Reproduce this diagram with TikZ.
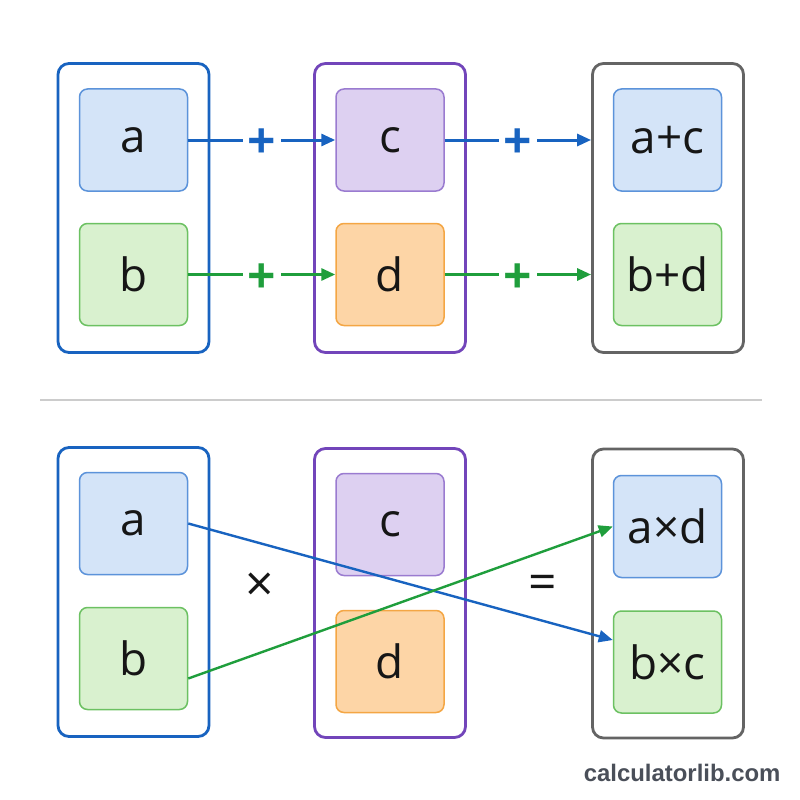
\documentclass[tikz,border=0pt]{standalone}
\usepackage{fontspec}
\setmainfont{Open Sans}
\newfontfamily\markfont{Liberation Sans}
\usetikzlibrary{arrows.meta}

\begin{document}
\begin{tikzpicture}[x=1bp,y=-1bp,
  frame/.style={draw,line width=2.8bp,rounded corners=11bp,minimum width=151bp,minimum height=289bp},
  cell/.style={draw,line width=1.5bp,rounded corners=8bp,minimum width=108bp,minimum height=102bp,text=cellText,font=\fontsize{46}{48}\selectfont},
  flow/.style={line width=3bp,-{Triangle[length=14bp,width=12bp]}},
  op/.style={fill=white,inner xsep=5bp,inner ysep=0bp,yshift=-4bp,font=\fontsize{50}{52}\selectfont\bfseries}]
\definecolor{frameBlue}{HTML}{1863C0}
\definecolor{framePurple}{HTML}{7245BA}
\definecolor{frameGray}{HTML}{646464}
\definecolor{blueFill}{HTML}{D4E4F8}
\definecolor{blueLine}{HTML}{5C93DA}
\definecolor{greenFill}{HTML}{D9F1CF}
\definecolor{greenLine}{HTML}{6CC162}
\definecolor{purpleFill}{HTML}{DDD0F1}
\definecolor{purpleLine}{HTML}{9A7BD0}
\definecolor{orangeFill}{HTML}{FDD5A6}
\definecolor{orangeLine}{HTML}{F4A644}
\definecolor{arrowGreen}{HTML}{1F9E3C}
\definecolor{cellText}{HTML}{161616}
\definecolor{ruleGray}{HTML}{CCCCCC}
\definecolor{markGray}{HTML}{4A4F59}
\fill[white] (0,0) rectangle (800,800);
% frames
\foreach \nm/\x/\y/\col in {tL/133.5/208/frameBlue,tM/390/208/framePurple,tR/668/208/frameGray,
                           bL/133.5/592/frameBlue,bM/390/593/framePurple,bR/668/593.5/frameGray} {
  \node[frame,draw=\col] (\nm) at (\x,\y) {};
}
% cells
\foreach \nm/\x/\y/\fl/\ln/\lab in {ta/133.5/140/blueFill/blueLine/a,tb/133.5/274.5/greenFill/greenLine/b,
                                   tc/390/140/purpleFill/purpleLine/c,td/390/274.5/orangeFill/orangeLine/d,
                                   tac/667.5/140/blueFill/blueLine/a+c,tbd/667.5/274.5/greenFill/greenLine/b+d,
                                   ba/133.5/523.5/blueFill/blueLine/a,bb/133.5/658.5/greenFill/greenLine/b,
                                   bc/390/524.5/purpleFill/purpleLine/c,bd/390/661.5/orangeFill/orangeLine/d,
                                   bad/667.5/526.5/blueFill/blueLine/a×d,bbc/667.5/662/greenFill/greenLine/b×c} {
  \node[cell,fill=\fl,draw=\ln] (\nm) at (\x,\y) {\lab};
}
% addition
\draw[flow,frameBlue] (ta) -- node[op,text=frameBlue] (plusA) {+} (tc);
\draw[flow,frameBlue] (tc) -- node[op,text=frameBlue] (plusC) {+} (tc -| tR.west);
\draw[flow,arrowGreen] (tb) -- node[op,text=arrowGreen] (plusB) {+} (td);
\draw[flow,arrowGreen] (td) -- node[op,text=arrowGreen] (plusD) {+} (td -| tR.west);
\draw[ruleGray,line width=1.5bp] (40,400) -- (762,400);
% cross product
\node[font=\fontsize{50}{52}\selectfont,text=cellText] (times) at (260,587) {×};
\node[font=\fontsize{50}{52}\selectfont,text=cellText] (equals) at (543,587) {=};
\coordinate (bbcIn) at ([yshift=22bp]bbc.west);
\coordinate (bbOut) at ([yshift=-20bp]bb.east);
\draw[flow,line width=2.4bp,frameBlue] (ba.east) -- (bbcIn);
\draw[flow,line width=2.4bp,arrowGreen] (bbOut) -- (bad.west);
\node[anchor=east,font=\markfont\bfseries\fontsize{24}{26}\selectfont,text=markGray] (mark) at (784,773) {calculatorlib.com};
\end{tikzpicture}
\end{document}
